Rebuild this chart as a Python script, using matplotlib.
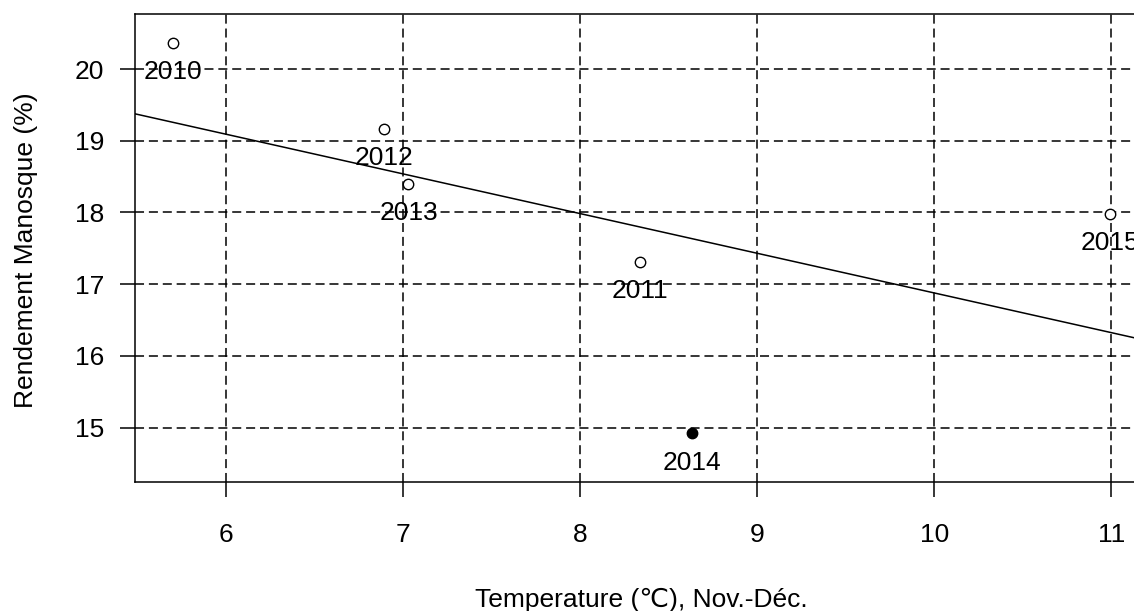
import matplotlib
matplotlib.use("Agg")
import matplotlib.pyplot as plt
import numpy as np

# data
years = ["2010", "2011", "2012", "2013", "2014", "2015"]
temperature = [5.70, 8.34, 6.89, 7.03, 8.63, 10.99]
rendement = [20.36, 17.31, 19.17, 18.40, 14.92, 17.98]
filled = [False, False, False, False, True, False]

xticks = [6, 7, 8, 9, 10, 11]
yticks = [15, 16, 17, 18, 19, 20]


def main():
    plt.rcParams['font.family'] = ['Liberation Sans', 'DejaVu Sans']
    plt.rcParams['lines.scale_dashes'] = False
    fs = 19

    fig = plt.figure(figsize=(11.34, 6.11), dpi=100)
    ax = fig.add_axes([0.1190, 0.2111, 0.8925, 0.7660])

    x = np.array(temperature)
    y = np.array(rendement)

    ax.set_xlim(5.485, 11.202)
    ax.set_ylim(14.243, 20.767)

    # grid at the ticks
    for t in xticks:
        ax.axvline(t, color="black", lw=1.1, dashes=(6.5, 3.5), zorder=1)
    for t in yticks:
        ax.axhline(t, color="black", lw=1.1, dashes=(6.5, 3.5), zorder=1)

    # regression line
    slope, inter = np.polyfit(x, y, 1)
    xl = np.array(ax.get_xlim())
    ax.plot(xl, inter + slope * xl, color="black", lw=1.1, zorder=2)

    for xi, yi, lab, f in zip(x, y, years, filled):
        ax.plot(xi, yi, marker="o", ms=7.5, mew=1.0, mec="black",
                mfc="black" if f else "white", ls="none", zorder=3)
        ax.annotate(lab, (xi, yi), xytext=(0, -21), textcoords="offset points",
                    ha="center", va="center", fontsize=fs, annotation_clip=False,
                    zorder=4)

    ax.set_xticks(xticks)
    ax.set_yticks(yticks)
    ax.tick_params(axis="x", direction="out", length=10.8, width=1.1,
                   pad=18.5, labelsize=fs)
    ax.tick_params(axis="y", direction="out", length=10.8, width=1.1,
                   pad=11.5, labelsize=fs)

    for s in ax.spines.values():
        s.set_linewidth(1.1)

    # axis titles centred on the plot region, as R does
    fig.text(641 / 1134, 1 - 600 / 611, "Temperature (\u2103), Nov.-Déc.",
             ha="center", va="center", fontsize=fs)
    fig.text(26 / 1134, 1 - 250 / 611, "Rendement Manosque (%)",
             ha="center", va="center", rotation=90, fontsize=fs)

    fig.savefig("out.png", dpi=100)


if __name__ == '__main__':
    main()
